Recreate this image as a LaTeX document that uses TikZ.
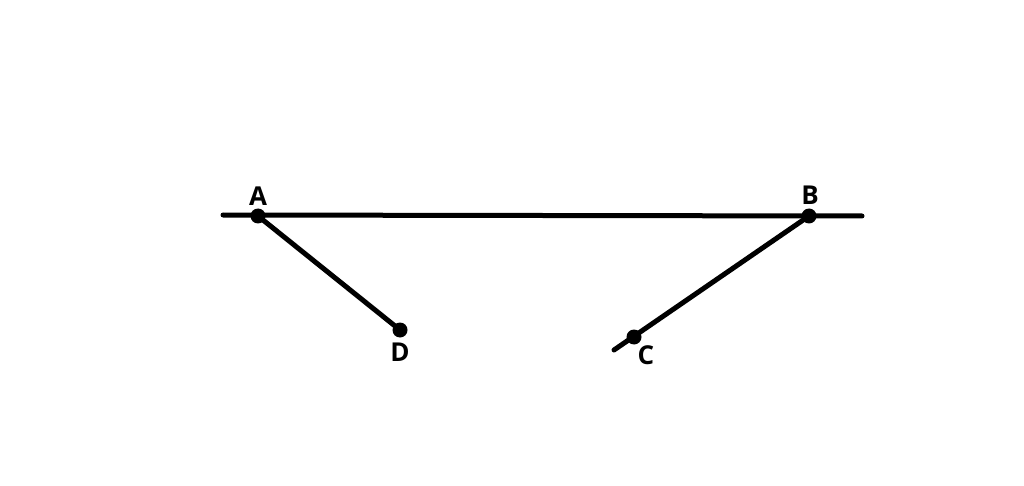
\documentclass[tikz,border=0pt]{standalone}
\usepackage{fontspec}
\setmainfont{Open Sans}
\begin{document}
\begin{tikzpicture}[x=1pt,y=-1pt,
  seg/.style={line width=5pt,line cap=round},
  pt/.style={circle,fill=black,inner sep=0pt,minimum size=15pt},
  lbl/.style={font=\fontsize{26}{30}\selectfont\bfseries,inner sep=0pt}]
\useasboundingbox (0,0) rectangle (1024,486);
\coordinate (L) at (223,215);
\coordinate (R) at (862,216);
\coordinate (E) at (614,350);
\node[pt] (A) at (258,216) {};
\node[pt] (B) at (809,216) {};
\node[pt] (D) at (400,330) {};
\node[pt] (C) at (634,337) {};
\draw[seg] (L) -- (R);
\draw[seg] (A.center) -- (D.center);
\draw[seg] (B.center) -- (E);
\node[lbl] (la) at (258,196) {A};
\node[lbl] (lb) at (810,195) {B};
\node[lbl] (ld) at (400,352) {D};
\node[lbl] (lc) at (646,355) {C};
\end{tikzpicture}
\end{document}
